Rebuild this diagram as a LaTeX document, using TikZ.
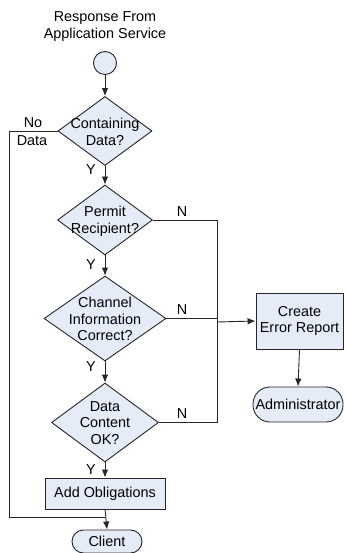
\documentclass[tikz,border=0pt]{standalone}
\usepackage{fontspec}
\setmainfont{Liberation Sans}
\usetikzlibrary{shapes.geometric,arrows.meta}
\definecolor{boxfill}{HTML}{E6ECF7}
\definecolor{linec}{HTML}{262626}
\begin{document}
\begin{tikzpicture}[x=1pt,y=-1pt,
  every node/.append style={font=\fontsize{14.4}{16.8}\selectfont},
  dia/.style={shape=diamond,draw=linec,fill=boxfill,inner sep=0pt,line width=0.9pt},
  procbox/.style={draw=linec,fill=boxfill,line width=0.9pt,inner sep=0pt},
  termbox/.style={draw=linec,fill=boxfill,line width=0.9pt,inner sep=0pt},
  txt/.style={align=center,inner sep=0pt},
  lbl/.style={inner sep=0pt},
  conn/.style={draw=linec,line width=0.9pt},
  arr/.style={conn,-{Latex[length=8pt,width=6.5pt]}}]
\useasboundingbox (0,0) rectangle (346,553);
% title
\node[txt] (title) at (105,26.5) {Response From\\Application Service};
% start circle
\node[draw=linec,fill=boxfill,circle,minimum size=23pt,inner sep=0pt,line width=0.9pt] (start) at (105,63) {};
% diamonds
\node[dia,minimum width=94pt,minimum height=69pt] (d1) at (105,131) {};
\node[txt] (t1) at (105,132) {Containing\\Data?};
\node[dia,minimum width=95pt,minimum height=70pt] (d2) at (105,220) {};
\node[txt] (t2) at (105,221) {Permit\\Recipient?};
\node[dia,minimum width=122pt,minimum height=85pt] (d3) at (105,318.5) {};
\node[txt] (t3) at (105,319) {Channel\\Information\\Correct?};
\node[dia,minimum width=107pt,minimum height=79pt] (d4) at (105,422.5) {};
\node[txt] (t4) at (105,423) {Data\\Content\\OK?};
% process boxes
\node[procbox,minimum width=120pt,minimum height=31pt] (obl) at (105,493.5) {Add Obligations};
\node[procbox,minimum width=87pt,minimum height=56pt,align=center] (err) at (299.5,321) {Create\\Error Report};
% terminals
\node[termbox,rounded corners=11.5pt,minimum width=70pt,minimum height=23pt] (client) at (107,541.5) {Client};
\node[termbox,rounded corners=17pt,minimum width=90pt,minimum height=35pt] (admin) at (298,404.5) {Administrator};
% coordinates
\coordinate (rx) at (217,0);
\coordinate (lx) at (9,0);
\coordinate (join) at (105,517);
\coordinate (jerr) at (217,322);
% main flow
\draw[arr] (start) -- (d1.north);
\draw[arr] (d1.south) -- (d2.north);
\draw[arr] (d2.south) -- (d3.north);
\draw[arr] (d3.south) -- (d4.north);
\draw[arr] (d4.south) -- (obl.north);
\draw[arr] (obl.south) -- (client.north);
% no data loop
\draw[conn] (d1.west) -| (lx |- join) -- (join);
% N branches
\draw[conn] (d2.east) -| (rx |- d4.east) -- (d4.east);
\draw[conn] (d3.east) -- (rx |- d3.east);
\draw[arr] (jerr) -- (err.west);
\draw[arr] (err.south) -- (admin.north);
% labels
\node[lbl] (y1) at (91,170) {Y};
\node[lbl] (y2) at (91,265) {Y};
\node[lbl] (y3) at (91,367) {Y};
\node[lbl] (y4) at (91,470) {Y};
\node[lbl] (n2) at (182,212) {N};
\node[lbl] (n3) at (182,310) {N};
\node[lbl] (n4) at (182,414) {N};
\node[lbl] (no) at (33,123) {No};
\node[lbl] (data) at (32,141) {Data};
\end{tikzpicture}
\end{document}
